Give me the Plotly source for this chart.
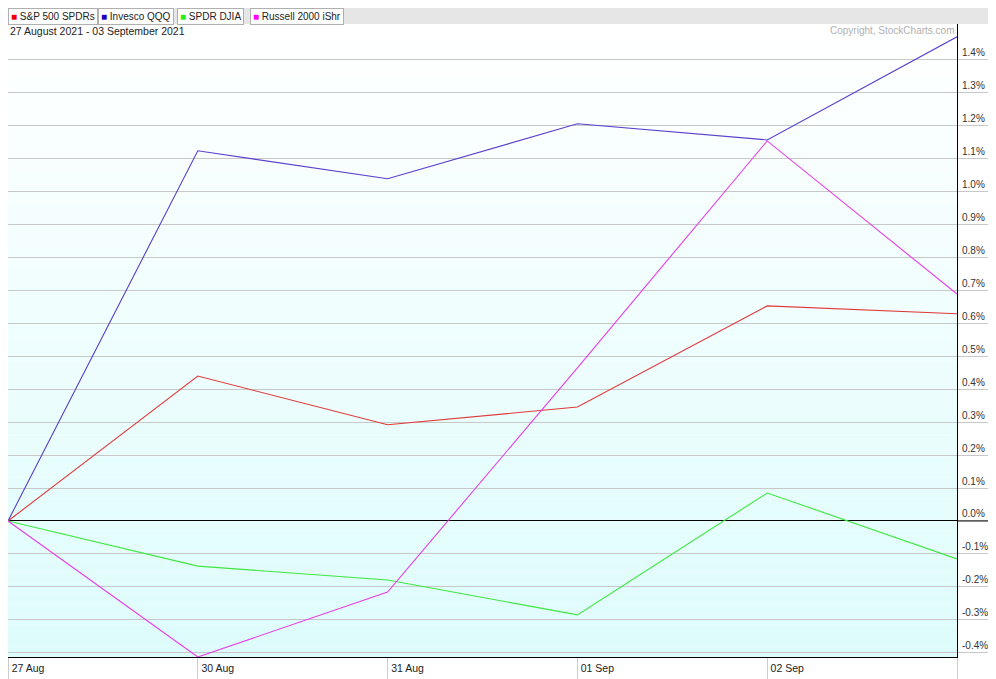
import plotly.graph_objects as go

dates = ["27 Aug", "30 Aug", "31 Aug", "01 Sep", "02 Sep", "03 Sep"]
x_labels = ["27 Aug", "30 Aug", "31 Aug", "01 Sep", "02 Sep", ""]
spy = [0.0, 0.440, 0.292, 0.346, 0.653, 0.629]
qqq = [0.0, 1.124, 1.039, 1.206, 1.157, 1.470]
dia = [0.0, -0.137, -0.179, -0.285, 0.085, -0.115]
iwm = [0.0, -0.413, -0.216, 0.465, 1.154, 0.689]
y_ticks = [-0.4, -0.3, -0.2, -0.1, 0.0, 0.1, 0.2, 0.3, 0.4, 0.5, 0.6, 0.7,
           0.8, 0.9, 1.0, 1.1, 1.2, 1.3, 1.4]
y_labels = [f"{v:.1f}%" for v in y_ticks]

series = [
    ("S&P 500 SPDRs", spy, "#e03a3a", "#ee0000"),
    ("Invesco QQQ", qqq, "#5a3fcc", "#2200bb"),
    ("SPDR DJIA", dia, "#3ee83e", "#22ee22"),
    ("Russell 2000 iShr", iwm, "#e63ee6", "#ff00ff"),
]

# the page body has an 8px margin, so the figure is sized to the visible area
W, H = 988, 671
L, R, T, B = 0, 39, 16, 22
PW, PH = W - L - R, H - T - B

xi = list(range(len(dates)))
fig = go.Figure()
for name, vals, col, _ in series:
    fig.add_trace(go.Scatter(x=xi, y=vals, mode="lines", name=name,
                             line=dict(color=col, width=1.1),
                             hovertext=dates, showlegend=False))

shapes = []
n = 60
top = (255, 255, 255)
bot = (222, 252, 252)
for i in range(n):
    t = i / (n - 1)
    c = tuple(round(top[k] + (bot[k] - top[k]) * t) for k in range(3))
    shapes.append(dict(type="rect", xref="paper", yref="paper",
                       x0=0, x1=1, y0=1 - (i + 1) / n, y1=1 - i / n,
                       fillcolor=f"rgb{c}", line=dict(width=0), layer="below"))
shapes.append(dict(type="rect", xref="paper", yref="paper",
                   x0=-0.01, x1=1 + R / PW, y0=1.0, y1=1 + T / PH + 0.01,
                   fillcolor="#e6e6e6", line=dict(width=0), layer="below"))
shapes.append(dict(type="line", xref="paper", yref="y",
                   x0=1, x1=1 + 38 / PW, y0=0, y1=0,
                   line=dict(color="black", width=1)))

annotations = []
btn_x = [0, 90, 169, 242]
for (name, _, _, sq), bx in zip(series, btn_x):
    annotations.append(dict(
        xref="paper", yref="paper",
        x=bx / PW, y=1 + 8 / PH, xanchor="left", yanchor="middle",
        text=f"<span style='color:{sq}'>■</span> {name}",
        showarrow=False, font=dict(family="Liberation Sans, Arial", size=10, color="#222"),
        bgcolor="#ffffff", bordercolor="#b0b0b0", borderwidth=1, borderpad=2))
annotations.append(dict(xref="paper", yref="paper", x=0, y=1 + 1 / PH,
                        xanchor="left", yanchor="top",
                        text="27 August 2021 - 03 September 2021", showarrow=False,
                        font=dict(family="Liberation Sans, Arial", size=10.5, color="#222")))
annotations.append(dict(xref="paper", yref="paper", x=1, y=1 + 1 / PH,
                        xanchor="right", yanchor="top",
                        text="Copyright, StockCharts.com", showarrow=False,
                        font=dict(family="Liberation Sans, Arial", size=10, color="#b0b0b0")))

fig.update_layout(
    width=W, height=H,
    margin=dict(l=L, r=R, t=T, b=B, autoexpand=False),
    paper_bgcolor="white", plot_bgcolor="rgba(0,0,0,0)",
    font=dict(family="Liberation Sans, Arial", size=11, color="#333"),
    shapes=shapes, annotations=annotations,
    xaxis=dict(range=[0, 5], tickvals=xi, ticktext=x_labels, automargin=False,
               showgrid=False, zeroline=False,
               showline=True, linecolor="black", linewidth=1,
               ticks="outside", ticklen=22, tickcolor="#cccccc",
               ticklabelshift=20, ticklabelstandoff=-21,
               tickfont=dict(size=10.5, color="#222")),
    yaxis=dict(side="right", range=[-0.413, 1.509], automargin=False,
               tickvals=y_ticks, ticktext=y_labels,
               showgrid=True, gridcolor="#c8c8c8", gridwidth=1,
               zeroline=True, zerolinecolor="black", zerolinewidth=1,
               showline=True, linecolor="black", linewidth=1,
               ticks="outside", ticklen=38, tickcolor="#c8c8c8",
               ticklabelshift=-7, ticklabelstandoff=-36,
               tickfont=dict(size=10, color="#333")),
)

fig.write_html("out.html")
